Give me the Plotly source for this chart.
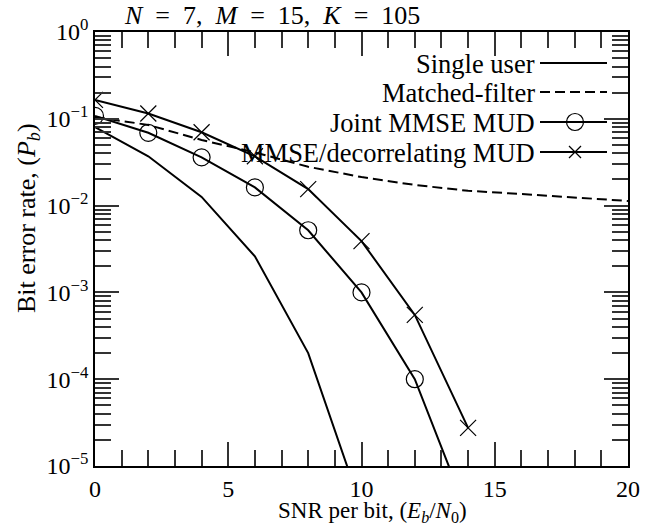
import plotly.graph_objects as go

# ---- data ----
snr_even = [0, 2, 4, 6, 8, 10]
single_user = [0.080, 0.037, 0.0126, 0.0026, 2.0e-4, 3.3e-6]

snr_mf = [0, 2, 4, 6, 8, 10, 12, 14, 16, 18, 20]
matched_filter = [0.105, 0.085, 0.057, 0.041, 0.028, 0.0213, 0.0173, 0.0148, 0.0136, 0.0125, 0.0113]

snr_joint = [0, 2, 4, 6, 8, 10, 12, 14]
joint_mmse = [0.108, 0.069, 0.036, 0.0162, 0.0052, 1.0e-3, 1.0e-4, 2.7e-6]

snr_dec = [0, 2, 4, 6, 8, 10, 12, 14]
mmse_decorr = [0.165, 0.115, 0.070, 0.037, 0.0155, 0.0039, 5.5e-4, 2.75e-5]

legend_names = ["Single user", "Matched-filter", "Joint MMSE MUD", "MMSE/decorrelating MUD"]

x_ticks = [0, 5, 10, 15, 20]
y_tick_exps = [0, -1, -2, -3, -4, -5]

title_text = "<i>N</i>\u2002=\u20027,  <i>M</i>\u2002=\u200215,  <i>K</i>\u2002=\u2002105"
x_title = "SNR per bit, (<i>E</i><sub><i>b</i></sub>/<i>N</i><sub>0</sub>)"
y_title = "Bit error rate, (<i>P</i><sub><i>b</i></sub>)"

# ---- figure ----
FONT = "Liberation Serif"
W, H = 654, 531
L, R, T, B = 95, 26, 32, 65
pw, ph = W - L - R, H - T - B

def px(xp):
    return (xp - L) / pw

def py(yp):
    return (H - B - yp) / ph

fig = go.Figure()
lw = 2
fig.add_trace(go.Scatter(x=snr_even, y=single_user, mode="lines",
                         line=dict(color="black", width=lw), showlegend=False))
fig.add_trace(go.Scatter(x=snr_mf, y=matched_filter, mode="lines",
                         line=dict(color="black", width=lw, dash="10px,5px"), showlegend=False))
fig.add_trace(go.Scatter(x=snr_joint, y=joint_mmse, mode="lines+markers",
                         line=dict(color="black", width=lw),
                         marker=dict(symbol="circle-open", size=17, color="black",
                                     line=dict(width=1.2, color="black")),
                         showlegend=False))
fig.add_trace(go.Scatter(x=snr_dec, y=mmse_decorr, mode="lines+markers",
                         line=dict(color="black", width=lw),
                         marker=dict(symbol="x-thin-open", size=16, color="black",
                                     line=dict(width=1.2, color="black")),
                         showlegend=False))

tickfont = dict(family=FONT, size=24, color="black")
fig.update_xaxes(range=[0, 20], showline=True, linecolor="black", linewidth=1.5,
                 mirror="ticks", ticks="inside", ticklen=24, tickcolor="#333333", tickwidth=1.6,
                 tickmode="array", tickvals=x_ticks, ticktext=[str(v) for v in x_ticks],
                 tickfont=tickfont,
                 minor=dict(ticks="inside", ticklen=16, tickcolor="#333333", tickwidth=1.6,
                            dtick=1, tick0=0, showgrid=False),
                 showgrid=False, zeroline=False)
fig.update_yaxes(type="log", range=[-5, 0], showline=True, linecolor="black", linewidth=1.5,
                 mirror="ticks", ticks="inside", ticklen=24, tickcolor="#333333", tickwidth=1.6,
                 tickmode="array", tickvals=[10 ** e for e in y_tick_exps],
                 ticktext=["10<sup>%s</sup>" % (str(e).replace("-", "\u2212")) for e in y_tick_exps],
                 tickfont=tickfont,
                 minor=dict(ticks="inside", ticklen=16, tickcolor="#333333", tickwidth=1.6,
                            dtick="D1", showgrid=False),
                 showgrid=False, zeroline=False)

annotations = [
    dict(text=title_text, xref="paper", yref="paper", x=px(122), y=py(16),
         xanchor="left", yanchor="middle", showarrow=False,
         font=dict(family=FONT, size=26, color="black")),
    dict(text=x_title, xref="paper", yref="paper", x=px(372), y=py(512),
         xanchor="center", yanchor="middle", showarrow=False,
         font=dict(family=FONT, size=23, color="black")),
    dict(text=y_title, xref="paper", yref="paper", x=px(28), y=py(218),
         xanchor="center", yanchor="middle", showarrow=False, textangle=-90,
         font=dict(family=FONT, size=26, color="black")),
]

shapes = []
row_y = [63, 92, 122, 152]
lx0, lx1, lmid = 540, 607, 575
for i, name in enumerate(legend_names):
    yy = row_y[i]
    annotations.append(dict(text=name, xref="paper", yref="paper", x=px(537), y=py(yy + 1),
                            xanchor="right", yanchor="middle", showarrow=False,
                            font=dict(family=FONT, size=26.5, color="black")))
    shapes.append(dict(type="line", xref="paper", yref="paper",
                       x0=px(lx0), x1=px(lx1), y0=py(yy), y1=py(yy),
                       line=dict(color="black", width=lw,
                                 dash="10px,5px" if i == 1 else "solid")))
r = 8.5
shapes.append(dict(type="circle", xref="paper", yref="paper",
                   x0=px(lmid - r), x1=px(lmid + r), y0=py(row_y[2] + r), y1=py(row_y[2] - r),
                   line=dict(color="black", width=1.2), fillcolor="rgba(0,0,0,0)"))
d = 6
for s in (1, -1):
    shapes.append(dict(type="line", xref="paper", yref="paper",
                       x0=px(lmid - d), x1=px(lmid + d),
                       y0=py(row_y[3] - s * d), y1=py(row_y[3] + s * d),
                       line=dict(color="black", width=1.2)))

fig.update_layout(width=W, height=H, margin=dict(l=L, r=R, t=T, b=B),
                  plot_bgcolor="rgba(0,0,0,0)", paper_bgcolor="white",
                  annotations=annotations, shapes=shapes,
                  font=dict(family=FONT, color="black"), showlegend=False)

fig.write_html("out.html", config={"displayModeBar": False},
               post_script="document.body.style.margin='0';")
